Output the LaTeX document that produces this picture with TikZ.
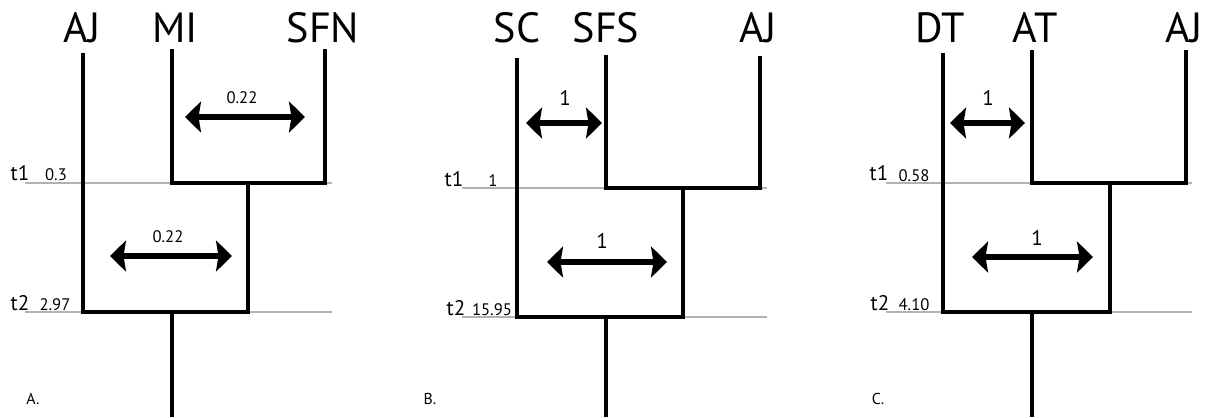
\documentclass[tikz,border=0pt]{standalone}
\usepackage{fontspec}
\setmainfont{PT Sans}
\usetikzlibrary{arrows.meta}

\begin{document}
\begin{tikzpicture}[
  x=0.02cm, y=-0.02cm,
  taxon/.style={font=\fontsize{24}{28}\selectfont, anchor=base, inner sep=0pt},
  tlbl/.style={font=\fontsize{12}{14}\selectfont, anchor=base, inner sep=0pt},
  tval/.style={font=\fontsize{9.5}{11}\selectfont, anchor=base, inner sep=0pt},
  mval/.style={font=\fontsize{9.5}{11}\selectfont, anchor=base, inner sep=0pt},
  mone/.style={font=\fontsize{12}{14}\selectfont, anchor=base, inner sep=0pt},
  panel/.style={font=\fontsize{9}{11}\selectfont, anchor=base, inner sep=0pt},
  branch/.style={draw=black, line width=1.8pt},
  tline/.style={draw=black!30, line width=0.6pt},
  mig/.style={{Stealth[length=0.32cm,width=0.62cm,inset=0.05cm]}-{Stealth[length=0.32cm,width=0.62cm,inset=0.05cm]},
              line width=3.4pt},
]
\useasboundingbox (0,0) rectangle (1212,417);

% Panel A -- AJ, MI, SFN
\node[taxon] (aAJ) at (82,42) {AJ};
\node[taxon] (aMI) at (175,42) {MI};
\node[taxon] (aSFN) at (323,42) {SFN};
\coordinate (aAJt) at (83,53);
\coordinate (aMIt) at (172,49);
\coordinate (aSFNt) at (325,49);
\coordinate (a1) at (248,183);
\coordinate (a2) at (172,312);
\coordinate (aR) at (172,417);
\coordinate (aG1l) at (25,183);
\coordinate (aG1r) at (332,183);
\coordinate (aG2l) at (25,312);
\coordinate (aG2r) at (332,312);
\draw[tline] (aG1l) -- (aG1r);
\draw[tline] (aG2l) -- (aG2r);
\draw[branch] (aMIt) |- (aSFNt |- a1) -- (aSFNt);
\draw[branch] (a1) |- (aAJt |- a2) -- (aAJt);
\draw[branch] (a2) -- (aR);
\coordinate (aM1l) at (185,117);
\coordinate (aM1r) at (305,117);
\coordinate (aM2l) at (110,256);
\coordinate (aM2r) at (232,256);
\draw[mig] (aM1l) -- (aM1r);
\draw[mig] (aM2l) -- (aM2r);
\node[mval] (aM1) at (242,103) {0.22};
\node[mval] (aM2) at (168,242) {0.22};
\node[tlbl] (aT1) at (20,180) {t1};
\node[tval] (aT1v) at (56,180) {0.3};
\node[tlbl] (aT2) at (20,310) {t2};
\node[tval] (aT2v) at (55,310) {2.97};
\node[panel] (aP) at (33,404) {A.};

% Panel B -- SC, SFS, AJ
\node[taxon] (bSC) at (517,42) {SC};
\node[taxon] (bSFS) at (606,42) {SFS};
\node[taxon] (bAJ) at (758,42) {AJ};
\coordinate (bSCt) at (517,58);
\coordinate (bSFSt) at (606,55);
\coordinate (bAJt) at (760,56);
\coordinate (b1) at (683,188);
\coordinate (b2) at (606,317);
\coordinate (bR) at (606,417);
\coordinate (bG1l) at (462,188);
\coordinate (bG1r) at (767,188);
\coordinate (bG2l) at (462,317);
\coordinate (bG2r) at (767,317);
\draw[tline] (bG1l) -- (bG1r);
\draw[tline] (bG2l) -- (bG2r);
\draw[branch] (bSFSt) |- (bAJt |- b1) -- (bAJt);
\draw[branch] (b1) |- (bSCt |- b2) -- (bSCt);
\draw[branch] (b2) -- (bR);
\coordinate (bM1l) at (526,123);
\coordinate (bM1r) at (602,123);
\coordinate (bM2l) at (547,262);
\coordinate (bM2r) at (667,262);
\draw[mig] (bM1l) -- (bM1r);
\draw[mig] (bM2l) -- (bM2r);
\node[mone] (bM1) at (565,105) {1};
\node[mone] (bM2) at (602,248) {1};
\node[tlbl] (bT1) at (454,186) {t1};
\node[tval] (bT1v) at (493,186) {1};
\node[tlbl] (bT2) at (456,315) {t2};
\node[tval] (bT2v) at (492,315) {15.95};
\node[panel] (bP) at (430,404) {B.};

% Panel C -- DT, AT, AJ
\node[taxon] (cDT) at (940,42) {DT};
\node[taxon] (cAT) at (1035,42) {AT};
\node[taxon] (cAJ) at (1184,42) {AJ};
\coordinate (cDTt) at (943,53);
\coordinate (cATt) at (1032,50);
\coordinate (cAJt) at (1186,50);
\coordinate (c1) at (1110,183);
\coordinate (c2) at (1032,312);
\coordinate (cR) at (1032,417);
\coordinate (cG1l) at (886,183);
\coordinate (cG1r) at (1192,183);
\coordinate (cG2l) at (886,312);
\coordinate (cG2r) at (1192,312);
\draw[tline] (cG1l) -- (cG1r);
\draw[tline] (cG2l) -- (cG2r);
\draw[branch] (cATt) |- (cAJt |- c1) -- (cAJt);
\draw[branch] (c1) |- (cDTt |- c2) -- (cDTt);
\draw[branch] (c2) -- (cR);
\coordinate (cM1l) at (950,123);
\coordinate (cM1r) at (1025,123);
\coordinate (cM2l) at (972,257);
\coordinate (cM2r) at (1093,257);
\draw[mig] (cM1l) -- (cM1r);
\draw[mig] (cM2l) -- (cM2r);
\node[mone] (cM1) at (988,105) {1};
\node[mone] (cM2) at (1037,245) {1};
\node[tlbl] (cT1) at (879,180) {t1};
\node[tval] (cT1v) at (914,181) {0.58};
\node[tlbl] (cT2) at (880,310) {t2};
\node[tval] (cT2v) at (914,310) {4.10};
\node[panel] (cP) at (878,404) {C.};
\end{tikzpicture}
\end{document}
